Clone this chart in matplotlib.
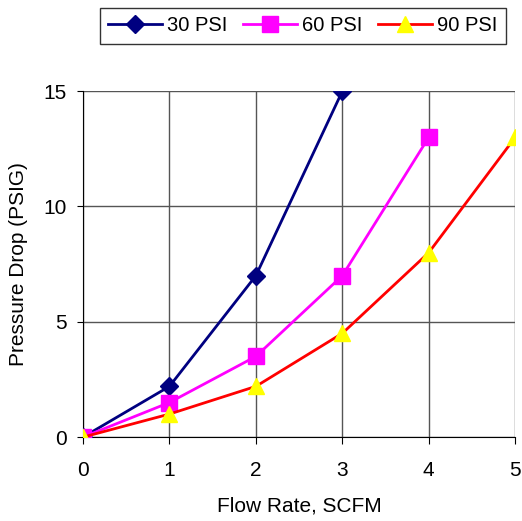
import numpy as np
import matplotlib
matplotlib.use("Agg")
import matplotlib.pyplot as plt

plt.rcParams['font.family'] = ['Liberation Sans', 'DejaVu Sans']

# flow rate (SCFM)
x30 = [0, 1, 2, 3]
x60 = [0, 1, 2, 3, 4]
x90 = [0, 1, 2, 3, 4, 5]
# pressure drop (PSIG)
y30 = [0, 2.2, 7, 15]
y60 = [0, 1.5, 3.5, 7, 13]
y90 = [0, 1.0, 2.2, 4.5, 8, 13]

fig = plt.figure(figsize=(5.22, 5.21), dpi=100)
ax = fig.add_axes([0.159, 0.161, 0.828, 0.664])

ax.plot(x30, y30, color='#000080', lw=2, marker='D', ms=9.5, mfc='#000080', mec='#000080', label='30 PSI', zorder=3)
ax.plot(x60, y60, color='#ff00ff', lw=2, marker='s', ms=12, mfc='#ff00ff', mec='#ff00ff', label='60 PSI', zorder=4)
ax.plot(x90, y90, color='#ff0000', lw=2, marker='^', ms=12, mfc='#ffff00', mec='#ffff00', label='90 PSI', zorder=5)

ax.set_xlim(0, 5)
ax.set_ylim(0, 15)
ax.set_xticks(range(0, 6))
ax.set_yticks([0, 5, 10, 15])
ax.grid(True, color='#555555', lw=1)
ax.set_axisbelow(True)
for s in ['top', 'right']:
    ax.spines[s].set_visible(False)
ax.spines['left'].set_color('black')
ax.spines['bottom'].set_color('black')
ax.tick_params(axis='both', labelsize=15, direction='out', colors='black')
ax.tick_params(axis='y', length=4.5, pad=7)
ax.tick_params(axis='x', length=5, pad=12)

ax.set_xlabel('Flow Rate, SCFM', fontsize=15, labelpad=12)
ax.set_ylabel('Pressure Drop (PSIG)', fontsize=15, labelpad=11)

leg = fig.legend(loc='upper center', bbox_to_anchor=(0.58, 0.985), ncol=3, fontsize=14.5,
                 frameon=True, fancybox=False, edgecolor='black', handlelength=2.7,
                 columnspacing=0.75, handletextpad=0.25, borderpad=0.42, borderaxespad=0)
leg.get_frame().set_linewidth(1)

fig.savefig('out.png', dpi=100, facecolor='white')
